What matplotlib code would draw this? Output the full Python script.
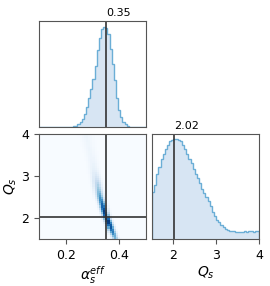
import numpy as np
import matplotlib
matplotlib.use("Agg")
import matplotlib.pyplot as plt

# alpha_s^eff marginal: 50 bins over 0.1-0.5, counts (bins 16..41)
alpha_range = (0.1, 0.5)
alpha_counts = np.zeros(50)
alpha_counts[16:42] = [5, 12, 25, 50, 80, 120, 190, 270, 360, 450, 580, 730, 840,
                       920, 940, 930, 880, 740, 590, 440, 270, 160, 90, 50, 25, 10]

# Q_s marginal: 50 bins over 1.5-4
qs_range = (1.5, 4.0)
qs_counts = [450, 510, 620, 690, 760, 810, 860, 900, 930, 940,
             950, 950, 940, 930, 900, 860, 810, 760, 720, 670,
             620, 580, 530, 480, 440, 400, 360, 310, 260, 220,
             180, 160, 130, 110, 100, 90, 80, 80, 75, 70,
             70, 70, 70, 72, 70, 72, 74, 70, 76, 72]

# ridge of the joint density (Q_s -> alpha centre and spread)
ridge_q = [1.5, 2.0, 2.5, 3.0, 3.5, 4.0]
ridge_alpha = [0.386, 0.353, 0.328, 0.312, 0.295, 0.275]
ridge_sigma = [0.008, 0.008, 0.009, 0.011, 0.013, 0.015]

best_alpha = 0.35
best_qs = 2.02

a_edges = np.linspace(*alpha_range, 51)
q_edges = np.linspace(*qs_range, 51)
a_mid = 0.5 * (a_edges[1:] + a_edges[:-1])
q_mid = 0.5 * (q_edges[1:] + q_edges[:-1])

# joint grid built from the marginal and the ridge
grid = np.zeros((50, 50))
for j, q in enumerate(q_mid):
    c = np.interp(q, ridge_q, ridge_alpha)
    s = np.interp(q, ridge_q, ridge_sigma)
    prof = np.exp(-0.5 * ((a_mid - c) / s) ** 2)
    grid[j] = qs_counts[j] * prof / prof.sum()

line_c = "#6baed6"
fill_c = "#c6dbef"
spine_c = "#555555"

fig = plt.figure(figsize=(2.7, 2.86), dpi=100)
ax_top = fig.add_axes([0.1444, 0.556, 0.396, 0.3706])
ax_2d = fig.add_axes([0.1444, 0.1643, 0.396, 0.367])
ax_r = fig.add_axes([0.563, 0.1643, 0.396, 0.367])

for ax in (ax_top, ax_2d, ax_r):
    for sp in ax.spines.values():
        sp.set_color(spine_c)
    ax.tick_params(colors=spine_c, labelcolor="black", labelsize=9, length=3.5)

# top marginal
ax_top.stairs(alpha_counts, a_edges, fill=True, color=fill_c, alpha=0.7)
ax_top.stairs(alpha_counts, a_edges, color=line_c, lw=1)
ax_top.axvline(best_alpha, color="#333333", lw=1.2)
ax_top.set_xlim(alpha_range)
ax_top.set_ylim(0, max(alpha_counts) / 0.94)
ax_top.set_xticks([])
ax_top.set_yticks([])
ax_top.text(best_alpha, 1.03, f"{best_alpha:.2f}", transform=ax_top.get_xaxis_transform(),
            ha="left", va="bottom", fontsize=8)

# joint
ax_2d.pcolormesh(a_edges, q_edges, grid, cmap="Blues", vmin=0, vmax=grid.max())
ax_2d.axvline(best_alpha, color="#333333", lw=1.2)
ax_2d.axhline(best_qs, color="#333333", lw=1.2)
ax_2d.set_xlim(alpha_range)
ax_2d.set_ylim(qs_range)
ax_2d.set_xticks([0.2, 0.4])
ax_2d.set_yticks([2, 3, 4])
ax_2d.set_xlabel(r"$\alpha_s^{eff}$", fontsize=10, labelpad=2)
ax_2d.set_ylabel(r"$Q_s$", fontsize=10, labelpad=2)

# right marginal
ax_r.stairs(qs_counts, q_edges, fill=True, color=fill_c, alpha=0.7)
ax_r.stairs(qs_counts, q_edges, color=line_c, lw=1)
ax_r.axvline(best_qs, color="#333333", lw=1.2)
ax_r.set_xlim(qs_range)
ax_r.set_ylim(0, max(qs_counts) / 0.95)
ax_r.set_xticks([2, 3, 4])
ax_r.set_yticks([])
ax_r.set_xlabel(r"$Q_s$", fontsize=10, labelpad=2)
ax_r.text(best_qs, 1.03, f"{best_qs:.2f}", transform=ax_r.get_xaxis_transform(),
          ha="left", va="bottom", fontsize=8)

fig.savefig("out.png", dpi=100)
